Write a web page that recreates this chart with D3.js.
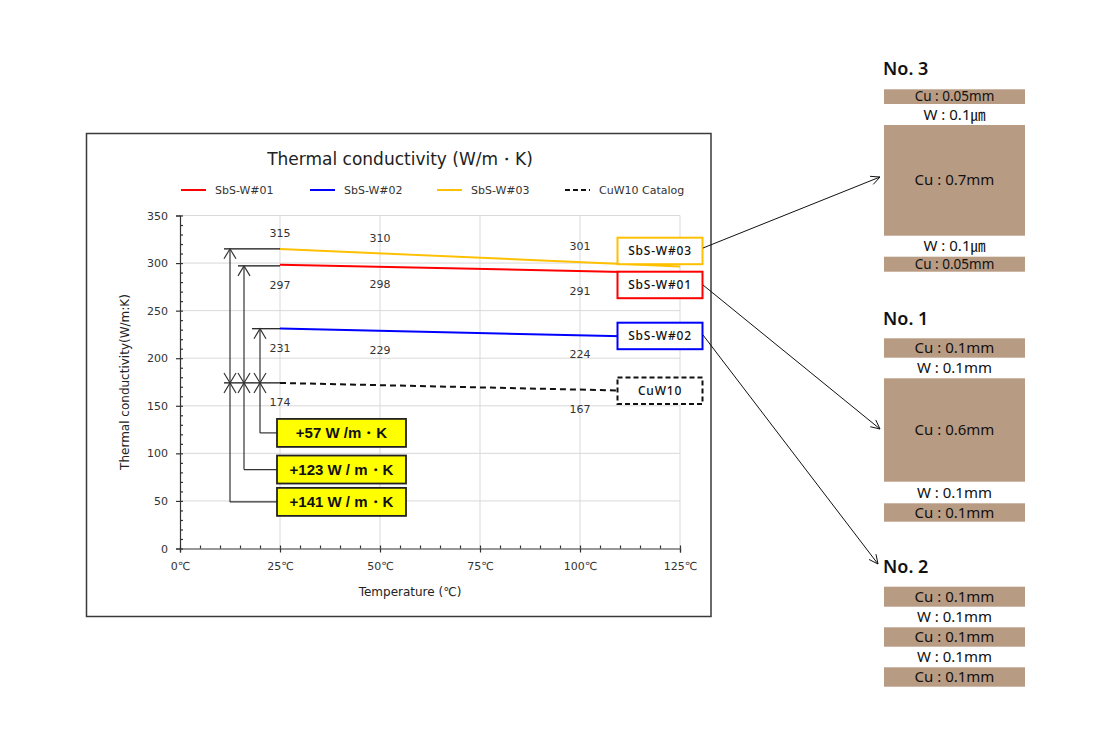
<!DOCTYPE html>
<html><head><meta charset="utf-8">
<script src="https://cdn.jsdelivr.net/npm/d3@7"></script>
<style>body{margin:0;background:#fff}svg{display:block}</style>
</head><body>
<svg id="c" width="1104" height="749"></svg>
<script>
// ---- data ----
const temps = [25, 50, 100];
const sbs01 = [297, 298, 291];
const sbs02 = [231, 229, 224];
const sbs03 = [315, 310, 301];
const cuwTemps = [25, 100];
const cuw10 = [174, 167];
const seriesNames = ["SbS-W#01", "SbS-W#02", "SbS-W#03", "CuW10 Catalog"];
const boxNames = ["SbS-W#01", "SbS-W#02", "SbS-W#03", "CuW10"];
const yTicks = [0, 50, 100, 150, 200, 250, 300, 350];
const xTicks = [0, 25, 50, 75, 100, 125];
const gains = ["+141 W / m・K", "+123 W / m・K", "+57 W /m・K"];
const panelTitles = ["No. 3", "No. 1", "No. 2"];
const panel3 = ["Cu : 0.05mm", "W : 0.1㎛", "Cu : 0.7mm", "W : 0.1㎛", "Cu : 0.05mm"];
const panel1 = ["Cu : 0.1mm", "W : 0.1mm", "Cu : 0.6mm", "W : 0.1mm", "Cu : 0.1mm"];
const panel2 = ["Cu : 0.1mm", "W : 0.1mm", "Cu : 0.1mm", "W : 0.1mm", "Cu : 0.1mm"];

const svg = d3.select("#c");
const FONT = "'DejaVu Sans', Verdana, sans-serif";
const x = d3.scaleLinear([0, 125], [180, 680]);
const y = d3.scaleLinear([0, 350], [548.5, 215.5]);

// frame
svg.append("rect").attr("x", 86.5).attr("y", 133.5).attr("width", 624.5).attr("height", 483)
  .attr("fill", "#fff").attr("stroke", "#3a3a3a").attr("stroke-width", 1.5);

// title
svg.append("text").attr("x", 400).attr("y", 165).attr("text-anchor", "middle")
  .attr("font-family", FONT).attr("font-size", 17).attr("fill", "#222")
  .text("Thermal conductivity (W/m・K)");

// grid
const g = svg.append("g");
g.selectAll(".gh").data(yTicks.filter(d => d > 0)).join("line")
  .attr("x1", x(0)).attr("x2", x(125)).attr("y1", d => y(d)).attr("y2", d => y(d))
  .attr("stroke", "#d9d9d9").attr("stroke-width", 1);
g.selectAll(".gv").data(xTicks.filter(d => d > 0)).join("line")
  .attr("x1", d => x(d)).attr("x2", d => x(d)).attr("y1", y(0)).attr("y2", y(350))
  .attr("stroke", "#d9d9d9").attr("stroke-width", 1);

// axes
const axY = svg.append("g").attr("transform", `translate(${x(0)},0)`)
  .call(d3.axisLeft(y).tickValues(yTicks).tickSize(4).tickPadding(8));
const axYm = svg.append("g").attr("transform", `translate(${x(0)},0)`)
  .call(d3.axisRight(y).tickValues(d3.range(0, 351, 10)).tickSize(3).tickFormat(""));
axYm.select(".domain").remove();
const axX = svg.append("g").attr("transform", `translate(0,${y(0)})`)
  .call(d3.axisBottom(x).tickValues(xTicks).tickSize(4).tickPadding(10).tickFormat(d => d + "℃"));
const axXm = svg.append("g").attr("transform", `translate(0,${y(0)})`)
  .call(d3.axisTop(x).tickValues(d3.range(0, 126, 5)).tickSize(3).tickFormat(""));
axXm.select(".domain").remove();
[axY, axYm, axX, axXm].forEach(a => {
  a.selectAll("path,line").attr("stroke", "#333").attr("stroke-width", 1.2);
  a.selectAll("text").attr("font-family", FONT).attr("font-size", 11).attr("fill", "#333");
});

// axis titles
svg.append("text").attr("transform", `translate(129,${(y(0) + y(350)) / 2}) rotate(-90)`)
  .attr("text-anchor", "middle").attr("font-family", FONT).attr("font-size", 12).attr("fill", "#222")
  .text("Thermal conductivity(W/m:K)");
svg.append("text").attr("x", 410).attr("y", 596).attr("text-anchor", "middle")
  .attr("font-family", FONT).attr("font-size", 12).attr("fill", "#222")
  .text("Temperature (℃)");

// series (drawn as linear trend lines through the points, as in the source chart)
const series = [
  { name: seriesNames[0], box: boxNames[0], xs: temps, vs: sbs01, color: "#ff0000", dash: null, lab: "below" },
  { name: seriesNames[1], box: boxNames[1], xs: temps, vs: sbs02, color: "#0000ff", dash: null, lab: "below" },
  { name: seriesNames[2], box: boxNames[2], xs: temps, vs: sbs03, color: "#ffc000", dash: null, lab: "above" },
  { name: seriesNames[3], box: boxNames[3], xs: cuwTemps, vs: cuw10, color: "#111", dash: "6,4", lab: "below" }
];
function fit(xs, vs) {
  const mx = d3.mean(xs), my = d3.mean(vs);
  const sxy = d3.sum(xs, (t, i) => (t - mx) * (vs[i] - my));
  const sxx = d3.sum(xs, t => (t - mx) * (t - mx));
  const b = sxy / sxx;
  return t => my + b * (t - mx);
}
const line = d3.line().x(d => x(d[0])).y(d => y(d[1]));
series.forEach(s => {
  const f = fit(s.xs, s.vs);
  const ends = [[s.xs[0], f(s.xs[0])], [125, f(125)]];
  svg.append("path").attr("d", line(ends)).attr("fill", "none").attr("stroke", s.color)
    .attr("stroke-width", 2).attr("stroke-dasharray", s.dash);
  const pts = s.xs.map((t, i) => [t, s.vs[i]]);
  svg.selectAll(null).data(pts).join("text")
    .attr("x", d => x(d[0])).attr("y", d => y(d[1]) + (s.lab === "above" ? -12 : 23))
    .attr("text-anchor", "middle").attr("font-family", FONT).attr("font-size", 11).attr("fill", "#333")
    .text(d => d[1]);
});

// legend
const legX = [181, 310, 437, 565];
series.forEach((s, i) => {
  svg.append("line").attr("x1", legX[i]).attr("x2", legX[i] + 25).attr("y1", 190).attr("y2", 190)
    .attr("stroke", s.color).attr("stroke-width", 2).attr("stroke-dasharray", s.dash ? "5,3" : null);
  svg.append("text").attr("x", legX[i] + 34).attr("y", 194).attr("font-family", FONT)
    .attr("font-size", 11).attr("fill", "#333").text(s.name);
});

// series label boxes (cover the line ends)
const boxOrder = [2, 0, 1, 3];
const boxY = [237.7, 271.7, 322.7, 377.5];
boxOrder.forEach((si, k) => {
  const s = series[si];
  svg.append("rect").attr("x", 617.5).attr("y", boxY[k]).attr("width", 85).attr("height", 26.5)
    .attr("fill", "#fff").attr("stroke", s.color).attr("stroke-width", 2)
    .attr("stroke-dasharray", s.dash ? "5,3" : null);
  svg.append("text").attr("x", 660).attr("y", boxY[k] + 17.5).attr("text-anchor", "middle")
    .attr("font-family", "'Noto Sans', sans-serif").attr("font-size", 12).attr("font-weight", 500)
    .attr("letter-spacing", 0.8).attr("fill", "#111").text(s.box);
});

// difference annotations
const base = cuw10[0];
const tops = [sbs03[0], sbs01[0], sbs02[0]];
const annX = [12.5, 16, 20];
const annY = [49, 83, 121.5];
const ac = "#333";
const ann = svg.append("g").attr("stroke", ac).attr("stroke-width", 1.2).attr("fill", "none");
[[tops[0], 11], [tops[1], 14.5], [tops[2], 18], [base, 11]].forEach(([v, x0]) => {
  ann.append("line").attr("x1", x(x0)).attr("x2", x(25)).attr("y1", y(v)).attr("y2", y(v))
    .attr("stroke", "#111").attr("stroke-width", 1.2);
});
tops.forEach((v, i) => {
  const xx = x(annX[i]), yt = y(v), yb = y(base), yc = y(annY[i]);
  ann.append("line").attr("x1", xx).attr("x2", xx).attr("y1", yt).attr("y2", yc);
  ann.append("path").attr("d", `M${xx - 6},${yt + 10}L${xx},${yt}L${xx + 6},${yt + 10}`);
  ann.append("path").attr("d", `M${xx - 6},${yb - 10}L${xx},${yb}L${xx + 6},${yb - 10}`);
  ann.append("path").attr("d", `M${xx - 6},${yb + 10}L${xx},${yb}L${xx + 6},${yb + 10}`);
  ann.append("line").attr("x1", xx).attr("x2", 277).attr("y1", yc).attr("y2", yc);
  svg.append("rect").attr("x", 277).attr("y", yc - 14).attr("width", 129).attr("height", 28)
    .attr("fill", "#ffff00").attr("stroke", "#222").attr("stroke-width", 1.8);
  svg.append("text").attr("x", 341.5).attr("y", yc + 5.5).attr("text-anchor", "middle")
    .attr("font-family", "'Liberation Sans', Arial, sans-serif").attr("font-weight", "bold")
    .attr("font-size", 15).attr("fill", "#111").text(gains[i]);
});

// leader arrows
function arrow(x1, y1, x2, y2) {
  const a = Math.atan2(y2 - y1, x2 - x1), L = 10, w = 0.45;
  svg.append("line").attr("x1", x1).attr("y1", y1).attr("x2", x2).attr("y2", y2)
    .attr("stroke", "#111").attr("stroke-width", 1);
  svg.append("path").attr("d",
    `M${x2 - L * Math.cos(a - w)},${y2 - L * Math.sin(a - w)}L${x2},${y2}L${x2 - L * Math.cos(a + w)},${y2 - L * Math.sin(a + w)}`)
    .attr("fill", "none").attr("stroke", "#111").attr("stroke-width", 1);
}
arrow(703, 248, 880, 177);
arrow(703, 285, 880, 429);
arrow(703, 335, 878, 564);

// layer panels
const brown = "#b89b83";
const PF = "'Noto Sans', 'Noto Sans CJK JP', sans-serif";
const panels = [
  { title: panelTitles[0], ty: 75, layers: panel3, ys: [89.3, 104, 125, 235.7, 256.7, 271.7], fs: 13.5 },
  { title: panelTitles[1], ty: 325, layers: panel1, ys: [338.3, 357.7, 378.3, 481.7, 503.3, 521.7], fs: 15 },
  { title: panelTitles[2], ty: 573, layers: panel2, ys: [586.7, 606.7, 627.3, 646.7, 667.3, 686.7], fs: 15 }
];
panels.forEach(p => {
  svg.append("text").attr("x", 883).attr("y", p.ty).attr("font-family", PF).attr("font-weight", 600)
    .attr("font-size", 18).attr("fill", "#111").text(p.title);
  p.layers.forEach((lab, i) => {
    const y0 = p.ys[i], y1 = p.ys[i + 1];
    if (i % 2 === 0) {
      svg.append("rect").attr("x", 884).attr("y", y0).attr("width", 141).attr("height", y1 - y0).attr("fill", brown);
    }
    const fs = (y1 - y0) < 18 ? p.fs : 15;
    svg.append("text").attr("x", 954.5).attr("y", (y0 + y1) / 2 + fs * 0.34).attr("text-anchor", "middle")
      .attr("font-family", PF).attr("font-size", fs).attr("fill", "#111").text(lab);
  });
});
</script>
</body></html>
